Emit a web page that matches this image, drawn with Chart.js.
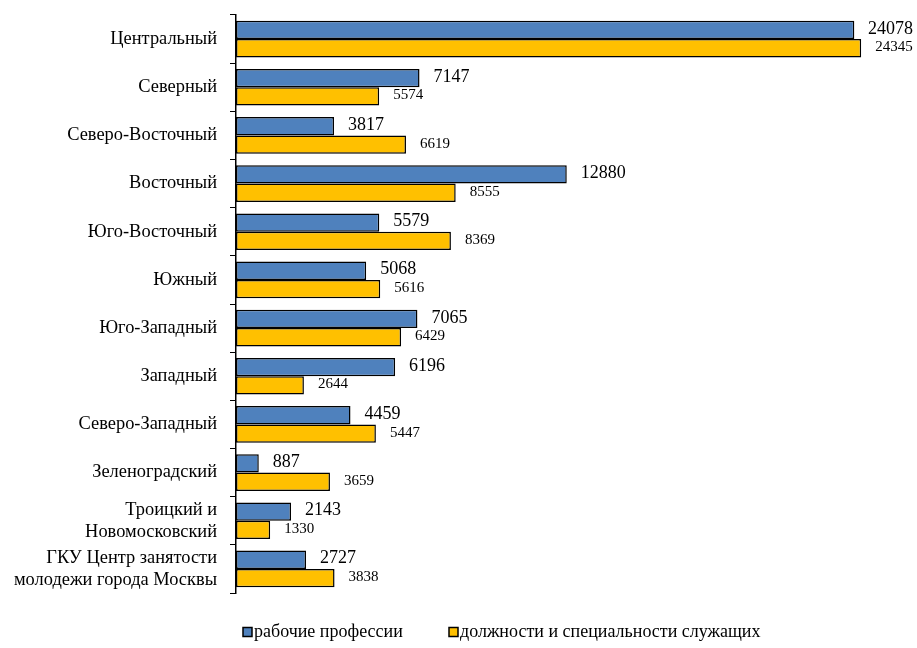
<!DOCTYPE html>
<html>
<head>
<meta charset="utf-8">
<script src="https://cdn.jsdelivr.net/npm/chart.js@4"></script>
<style>
html,body{margin:0;padding:0;background:#fff;}
#wrap{width:917px;height:648px;position:relative;}
</style>
</head>
<body>
<div id="wrap"><canvas id="c" width="917" height="648"></canvas></div>
<script>
const categories = ['Центральный','Северный','Северо-Восточный','Восточный','Юго-Восточный','Южный','Юго-Западный','Западный','Северо-Западный','Зеленоградский',['Троицкий и','Новомосковский'],['ГКУ Центр занятости','молодежи города Москвы']];
const seriesNames = ['рабочие профессии','должности и специальности служащих'];
const workers = [24078,7147,3817,12880,5579,5068,7065,6196,4459,887,2143,2727];
const employees = [24345,5574,6619,8555,8369,5616,6429,2644,5447,3659,1330,3838];
const colors = ['#4F81BD','#FFC000'];

const FONT = "'Liberation Serif','Times New Roman',serif";

const labelPlugin = {
  id: 'valueLabels',
  afterDatasetsDraw(chart) {
    const ctx = chart.ctx;
    const sizes = [18, 15];
    chart.data.datasets.forEach((ds, di) => {
      const meta = chart.getDatasetMeta(di);
      ctx.save();
      ctx.font = sizes[di] + 'px ' + FONT;
      ctx.fillStyle = '#000';
      ctx.textAlign = 'left';
      ctx.textBaseline = 'middle';
      meta.data.forEach((el, i) => {
        const txt = String(ds.data[i]);
        const w = ctx.measureText(txt).width;
        let x = el.x + 14;
        if (x + w > chart.width - 4) x = chart.width - 4 - w;
        ctx.fillText(txt, x, el.y - 1);
      });
      ctx.restore();
    });
  }
};

const legendPlugin = {
  id: 'customLegend',
  afterDraw(chart) {
    const ctx = chart.ctx;
    ctx.save();
    ctx.font = '18px ' + FONT;
    ctx.textBaseline = 'middle';
    ctx.textAlign = 'left';
    const y = 632;
    const starts = [243, 449];
    chart.data.datasets.forEach((ds, di) => {
      const x = starts[di];
      ctx.fillStyle = ds.backgroundColor;
      ctx.fillRect(x, y - 4.5, 9, 9);
      ctx.lineWidth = 1.5;
      ctx.strokeStyle = '#000';
      ctx.strokeRect(x, y - 4.5, 9, 9);
      ctx.fillStyle = '#000';
      ctx.fillText(ds.label, x + 11, y);
    });
    ctx.restore();
  }
};

new Chart(document.getElementById('c'), {
  type: 'bar',
  data: {
    labels: categories,
    datasets: [
      { label: seriesNames[0], data: workers, backgroundColor: colors[0], borderColor: '#000', borderWidth: 1.5, borderSkipped: false },
      { label: seriesNames[1], data: employees, backgroundColor: colors[1], borderColor: '#000', borderWidth: 1.5, borderSkipped: false }
    ]
  },
  options: {
    indexAxis: 'y',
    responsive: false,
    animation: false,
    devicePixelRatio: 1,
    layout: { padding: { top: 15, right: 39, bottom: 55, left: 0 } },
    datasets: { bar: { categoryPercentage: 0.76, barPercentage: 1.0 } },
    plugins: { legend: { display: false }, tooltip: { enabled: false } },
    scales: {
      x: { display: false, min: 0, max: 25000 },
      y: {
        offset: true,
        grid: { offset: true, drawOnChartArea: false, drawTicks: true, tickLength: 6, color: '#000', lineWidth: 1 },
        border: { display: true, color: '#000', width: 1.5 },
        ticks: { color: '#000', font: { family: FONT, size: 18.4 }, padding: 13, autoSkip: false },
        afterFit(scale) { scale.width = 236; scale.paddingTop = 0; scale.paddingBottom = 0; }
      }
    }
  },
  plugins: [labelPlugin, legendPlugin]
});
</script>
</body>
</html>
